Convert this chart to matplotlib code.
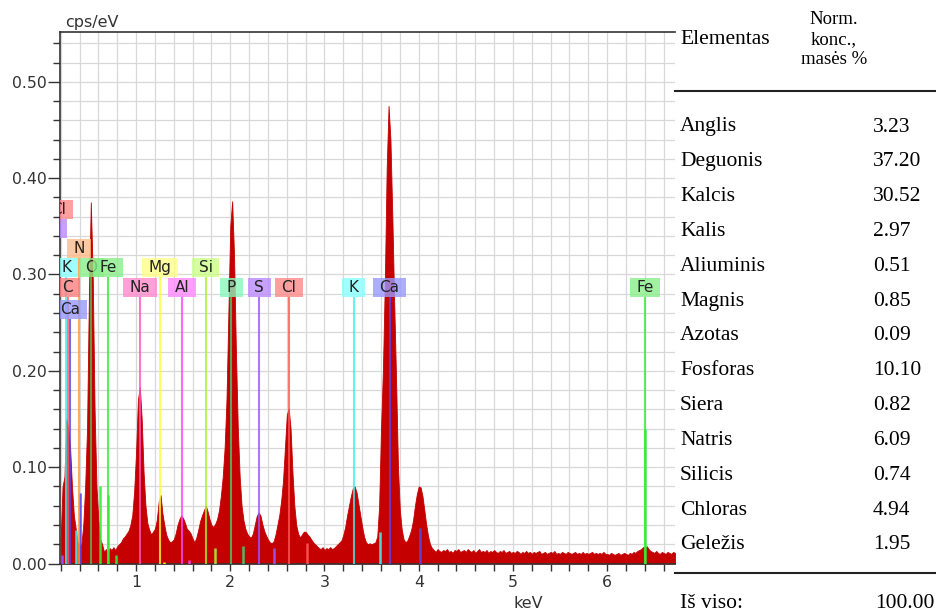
import numpy as np
import matplotlib
matplotlib.use("Agg")
import matplotlib.pyplot as plt
from matplotlib.patches import Rectangle
from matplotlib.transforms import ScaledTranslation
from matplotlib.ticker import MultipleLocator, FormatStrFormatter

W, H, DPI = 937, 615, 100

# spectrum: channels of 0.02 keV starting at 0.20 keV, values in 1e-3 cps/eV
E_START = 0.20
E_STEP = 0.02
spectrum_mcps = [
    25, 80, 90, 150, 140, 120, 80, 50, 36, 22,        # 0.20
    18, 20, 40, 80, 140, 280, 375, 300, 160, 80,      # 0.40
    45, 25, 20, 12, 15, 10, 16, 14, 17, 14,           # 0.60
    18, 20, 22, 26, 28, 31, 34, 40, 50, 75,           # 0.80
    115, 170, 183, 150, 95, 60, 42, 35, 30, 33,       # 1.00
    36, 45, 64, 71, 52, 40, 30, 25, 22, 23,           # 1.20
    25, 31, 40, 46, 50, 47, 42, 36, 34, 31,           # 1.40
    26, 22, 27, 35, 44, 50, 55, 60, 54, 46,           # 1.60
    40, 38, 41, 46, 55, 70, 90, 120, 170, 260,        # 1.80
    350, 376, 320, 220, 140, 90, 60, 45, 36, 31,      # 2.00
    28, 27, 31, 40, 49, 53, 50, 41, 34, 29,           # 2.20
    25, 22, 21, 23, 30, 40, 50, 65, 86, 120,          # 2.40
    154, 161, 140, 95, 60, 40, 31, 27, 30, 33,        # 2.60
    33, 30, 28, 25, 22, 20, 18, 16, 15, 17,           # 2.80
    14, 16, 15, 17, 15, 16, 18, 20, 22, 24,           # 3.00
    30, 38, 50, 60, 70, 78, 80, 74, 62, 50,           # 3.20
    38, 28, 22, 20, 21, 20, 21, 22, 28, 60,           # 3.40
    140, 200, 290, 410, 475, 440, 360, 270, 190, 100, # 3.60
    55, 35, 25, 22, 24, 29, 35, 45, 60, 72,           # 3.80
    80, 79, 70, 55, 40, 28, 20, 16, 14, 12,           # 4.00
    15, 13, 12, 14, 13, 15, 12, 13, 11, 14,           # 4.20
    13, 15, 12, 13, 14, 12, 15, 13, 12, 14,           # 4.40
    11, 13, 15, 12, 13, 12, 14, 11, 13, 12,           # 4.60
    14, 12, 11, 13, 12, 14, 11, 12, 13, 11,           # 4.80
    12, 11, 13, 12, 10, 12, 11, 13, 11, 12,           # 5.00
    10, 12, 11, 12, 13, 10, 11, 12, 10, 11,           # 5.20
    12, 11, 13, 10, 11, 10, 12, 11, 10, 12,           # 5.40
    11, 10, 11, 12, 10, 11, 10, 12, 10, 11,           # 5.60
    10, 11, 12, 10, 11, 10, 11, 10, 12, 10,           # 5.80
    10, 9, 11, 10, 9, 10, 11, 9, 10, 11,              # 6.00
    10, 9, 11, 10, 12, 11, 13, 14, 15, 17,            # 6.20
    16, 18, 15, 13, 12, 11, 13, 11, 10, 12,           # 6.40
    11, 10, 12, 11, 10, 12, 11,                       # 6.60
]

# element markers (labelled lines)
marker_names = ["S", "Cl", "K", "C", "Ca", "N", "O", "Fe", "Na", "Mg", "Al",
                "Si", "P", "S", "Cl", "K", "Ca", "Fe"]
marker_energy = [0.149, 0.182, 0.260, 0.277, 0.302, 0.392, 0.525, 0.705, 1.041,
                 1.254, 1.487, 1.740, 2.013, 2.307, 2.622, 3.313, 3.691, 6.403]
marker_level = [0.3475, 0.3672, 0.3071, 0.2868, 0.2635, 0.3273, 0.3071, 0.3071,
                0.2868, 0.3071, 0.2868, 0.3071, 0.2868, 0.2868, 0.2868, 0.2868,
                0.2868, 0.2868]

# secondary (unlabelled) lines
minor_names = ["S", "K", "Ca", "Fe", "Fe", "Fe", "Mg", "Al", "Si", "P", "S",
               "Cl", "K", "Ca", "Fe"]
minor_energy = [0.21, 0.36, 0.405, 0.615, 0.705, 0.79, 1.302, 1.557, 1.836,
                2.139, 2.464, 2.815, 3.590, 4.013, 6.403]
minor_height = [0.009, 0.035, 0.073, 0.080, 0.071, 0.009, 0.002, 0.004, 0.016,
                0.018, 0.016, 0.021, 0.033, 0.037, 0.140]

box_colors = {"C": "#ff8080", "N": "#ffbb88", "O": "#88ee88", "Fe": "#88ee88",
              "K": "#88ffff", "Ca": "#9999ff", "Na": "#ff88cc", "Mg": "#ffff88",
              "Al": "#ff88ff", "Si": "#ccff88", "P": "#88f5bb", "S": "#bb88ff",
              "Cl": "#ff8888"}
line_colors = {"C": "#ff6060", "N": "#ff9933", "O": "#55bb55", "Fe": "#33ee33",
               "K": "#44eeee", "Ca": "#5544ee", "Na": "#ff55bb", "Mg": "#ffff33",
               "Al": "#ff44ff", "Si": "#aaee33", "P": "#44cc77", "S": "#9955ff",
               "Cl": "#ff5555"}

# table on the right
table_elements = ["Anglis", "Deguonis", "Kalcis", "Kalis", "Aliuminis", "Magnis",
                  "Azotas", "Fosforas", "Siera", "Natris", "Silicis", "Chloras",
                  "Geležis"]
table_values = ["3.23", "37.20", "30.52", "2.97", "0.51", "0.85", "0.09", "10.10",
                "0.82", "6.09", "0.74", "4.94", "1.95"]
table_total = "100.00"


def fx(px):
    return px / W


def fy(py):
    return 1 - py / H


fig = plt.figure(figsize=(W / DPI, H / DPI), dpi=DPI)
ax = fig.add_axes([fx(60), fy(563.5), (675 - 60) / W, (563.5 - 31.7) / H])

energy = E_START + E_STEP * np.arange(len(spectrum_mcps))
cps = np.array(spectrum_mcps) / 1000.0
ax.fill_between(energy, cps, color='#c40000', lw=0.6, edgecolor='#c40000', zorder=2)

ax.set_xlim(0.193, 6.72)
ax.set_ylim(0, 0.552)

ax.xaxis.set_major_locator(MultipleLocator(1))
ax.xaxis.set_minor_locator(MultipleLocator(0.2))
ax.yaxis.set_major_locator(MultipleLocator(0.1))
ax.yaxis.set_minor_locator(MultipleLocator(0.02))
ax.yaxis.set_major_formatter(FormatStrFormatter('%.2f'))
ax.xaxis.set_major_formatter(FormatStrFormatter('%d'))

ax.tick_params(axis='y', which='major', length=8.5, width=1, color='#333333',
               labelcolor='#333333', labelsize=11.3, pad=1)
ax.tick_params(axis='y', which='minor', length=5, width=1, color='#333333')
ax.tick_params(axis='x', which='both', length=5, width=1, color='#333333',
               labelcolor='#333333', labelsize=11.3, pad=3)
ax.grid(which='both', color='#d8d8d8', lw=0.9)
ax.set_axisbelow(True)
ax.spines['right'].set_visible(False)
for s in ['left', 'bottom', 'top']:
    ax.spines[s].set_color('#333333')
    ax.spines[s].set_linewidth(1.2)

# secondary lines
for n, e, h in zip(minor_names, minor_energy, minor_height):
    ax.vlines(e, 0, h, color=line_colors[n], lw=1.8, alpha=0.9, zorder=3)

# labelled lines and their boxes
fig.canvas.draw()
renderer = fig.canvas.get_renderer()
box_h = 19
half_h = box_h / 2 / 964.0
for i, (n, e, lvl) in enumerate(zip(marker_names, marker_energy, marker_level)):
    ax.vlines(e, 0, lvl - half_h, color=line_colors[n], lw=1.5, alpha=0.8, zorder=3)
    t = ax.text(e, lvl, n, ha='center', va='center', fontsize=11, color='#222222',
                zorder=6 + 2 * i, clip_on=True)
    w = t.get_window_extent(renderer).width + 13
    tr = fig.dpi_scale_trans + ScaledTranslation(e, lvl, ax.transData)
    r = Rectangle((-w / 2 / DPI, -box_h / 2 / DPI), w / DPI, box_h / DPI,
                  transform=tr, fc=box_colors[n], ec='none', alpha=0.8,
                  zorder=5 + 2 * i)
    ax.add_patch(r)
    r.set_clip_path(ax.patch)

fig.text(fx(65), fy(22), 'cps/eV', ha='left', va='center', fontsize=11.5,
         color='#333333')
fig.text(fx(528), fy(604), 'keV', ha='center', va='center', fontsize=11.5,
         color='#333333')

# table
serif = 'Liberation Serif'
fig.text(fx(680), fy(40), 'Elementas', ha='left', va='center', fontsize=15.5,
         family=serif)
for j, line in enumerate(["Norm.", "konc.,", "masės %"]):
    fig.text(fx(834), fy(20 + 20 * j), line, ha='center', va='center',
             fontsize=13.5, family=serif)
fig.add_artist(plt.Line2D([fx(675), fx(937)], [fy(91), fy(91)], color='#222222', lw=1.5))
for i, (name, val) in enumerate(zip(table_elements, table_values)):
    y = 127 + i * 34.83
    fig.text(fx(680), fy(y), name, ha='left', va='center', fontsize=15.5, family=serif)
    fig.text(fx(873), fy(y), val, ha='left', va='center', fontsize=15.5, family=serif)
fig.add_artist(plt.Line2D([fx(675), fx(937)], [fy(573), fy(573)], color='#222222', lw=1.5))
fig.text(fx(680), fy(604), 'Iš viso:', ha='left', va='center', fontsize=15.5, family=serif)
fig.text(fx(875), fy(604), table_total, ha='left', va='center', fontsize=15.5, family=serif)

fig.savefig('out.png', dpi=DPI)
